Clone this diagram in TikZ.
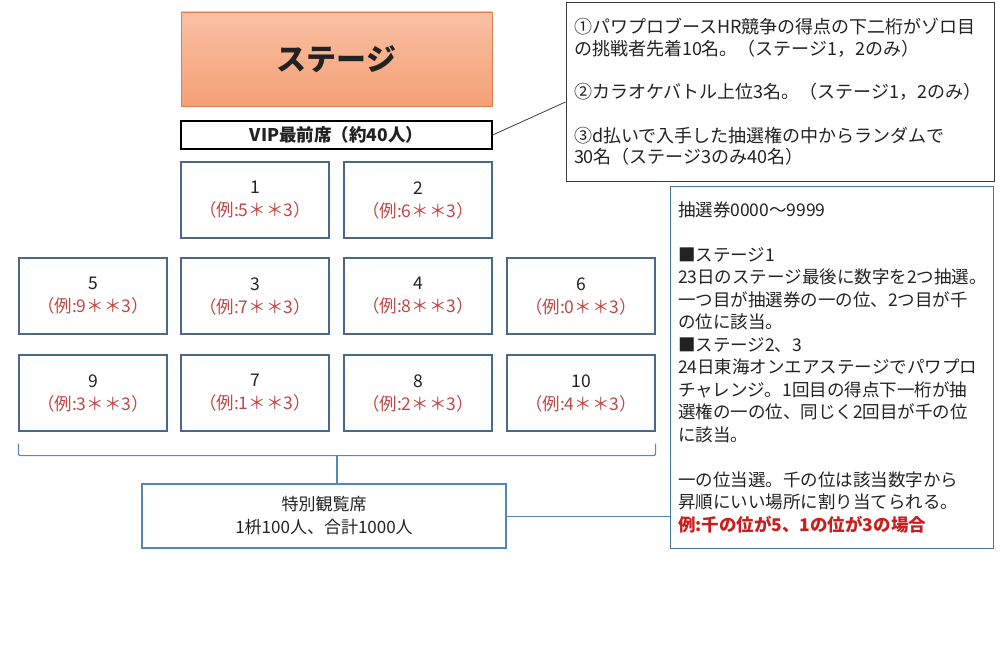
\documentclass[tikz,border=0pt]{standalone}
\usepackage{fontspec}
\setmainfont{Noto Sans CJK JP}
\usepackage{tikz}
\usetikzlibrary{positioning, calc}
\definecolor{ink}{RGB}{34,34,34}
\definecolor{steel}{RGB}{74,104,140}
\definecolor{sky}{RGB}{84,136,182}
\definecolor{lagoon}{RGB}{70,118,150}
\definecolor{rust}{RGB}{190,72,68}
\definecolor{alarm}{RGB}{200,30,30}
\definecolor{peach}{RGB}{250,192,164}
\definecolor{apricot}{RGB}{244,160,116}
\definecolor{ember}{RGB}{226,124,74}
\definecolor{graphite}{RGB}{60,60,60}
\newcommand{\ex}[1]{\textcolor{rust}{（例:#1＊＊3）}}

\begin{document}
\begin{tikzpicture}[
  x=1pt, y=1pt,
  stagebox/.style={draw=ember, top color=peach, bottom color=apricot,
                   minimum width=311pt, minimum height=94pt, text=ink,
                   font=\fontsize{30}{36}\selectfont\bfseries},
  vipbox/.style={draw=black, line width=1.3pt, fill=white,
                 minimum width=311pt, minimum height=28pt, text=ink,
                 font=\fontsize{17.5}{20}\selectfont\bfseries},
  seat/.style={draw=steel, line width=1.2pt, minimum width=148pt,
               minimum height=76pt, align=center, text=ink,
               font=\fontsize{17.5}{23}\selectfont},
  spec/.style={draw=sky, line width=1.2pt, minimum width=364pt,
               minimum height=64pt, align=center, text=ink,
               font=\fontsize{17}{23}\selectfont},
  memo/.style={draw=graphite, line width=1pt, align=left, text=ink,
               inner xsep=8pt, font=\fontsize{18}{21.7}\selectfont},
  brk/.style={draw=sky, line width=1.2pt, rounded corners=2pt},
  tie/.style={draw=sky, line width=0.8pt},
  lead/.style={draw=graphite, line width=0.8pt}]
  \useasboundingbox (0,0) rectangle (1000,-666);

  % --- stage and front row
  \node[stagebox] (stage) at (336.5, -59) {ステージ};
  \node[vipbox]   (vip)   at (336.5,-135) {VIP最前席（約40人）};
  \node[memo, text width=412pt, minimum height=178pt] (note) at (780,-92)
    {①パワプロブースHR競争の得点の下二桁がゾロ目\\
     の挑戦者先着10名。（ステージ1，2のみ）\\[21.7pt]
     ②カラオケバトル上位3名。（ステージ1，2のみ）\\[21.7pt]
     ③d払いで入手した抽選権の中からランダムで\\
     30名（ステージ3のみ40名）};
  \draw[lead] (vip.east) -- ([yshift=-10pt]note.west);

  % --- seat blocks: number / example digit / x / y
  \foreach \n/\d/\x/\y in {1/5/255/200, 2/6/418/200,
                           5/9/93/296, 3/7/255/296, 4/8/418/296, 6/0/581/296,
                           9/3/93/393, 7/1/255/393, 8/2/418/393, 10/4/581/393}
    \node[seat] (s\n) at (\x,-\y) {\n\\\ex{\d}};

  % --- the bracket over the bottom row, down to the special seats
  \coordinate (brl) at ([yshift=-12pt]s9.south west);
  \coordinate (brr) at ([yshift=-12pt]s10.south east);
  \coordinate (brm) at ($([yshift=-24pt]s9.south west)!0.5!([yshift=-24pt]s10.south east)$);
  \draw[brk] (brl) |- (brm) -| (brr);
  \node[spec] (sp) at (324,-516) {特別観覧席\\1枡100人、合計1000人};
  \draw[brk] (brm) -- (brm |- sp.north);

  % --- lottery rules
  \node[memo, draw=lagoon, text width=307pt, minimum height=362pt,
        font=\fontsize{17.5}{22.5}\selectfont] (lot) at (831.5,-367)
    {抽選券0000～9999\\[22.5pt]
     ■ステージ1\\
     23日のステージ最後に数字を2つ抽選。\\
     一つ目が抽選券の一の位、2つ目が千\\
     の位に該当。\\
     ■ステージ2、3\\
     24日東海オンエアステージでパワプロ\\
     チャレンジ。1回目の得点下一桁が抽\\
     選権の一の位、同じく2回目が千の位\\
     に該当。\\[22.5pt]
     一の位当選。千の位は該当数字から\\
     昇順にいい場所に割り当てられる。\\
     \textcolor{alarm}{\bfseries 例:千の位が5、1の位が3の場合}};
  \draw[tie] (sp.east) -- (sp.east -| lot.west);
\end{tikzpicture}
\end{document}
